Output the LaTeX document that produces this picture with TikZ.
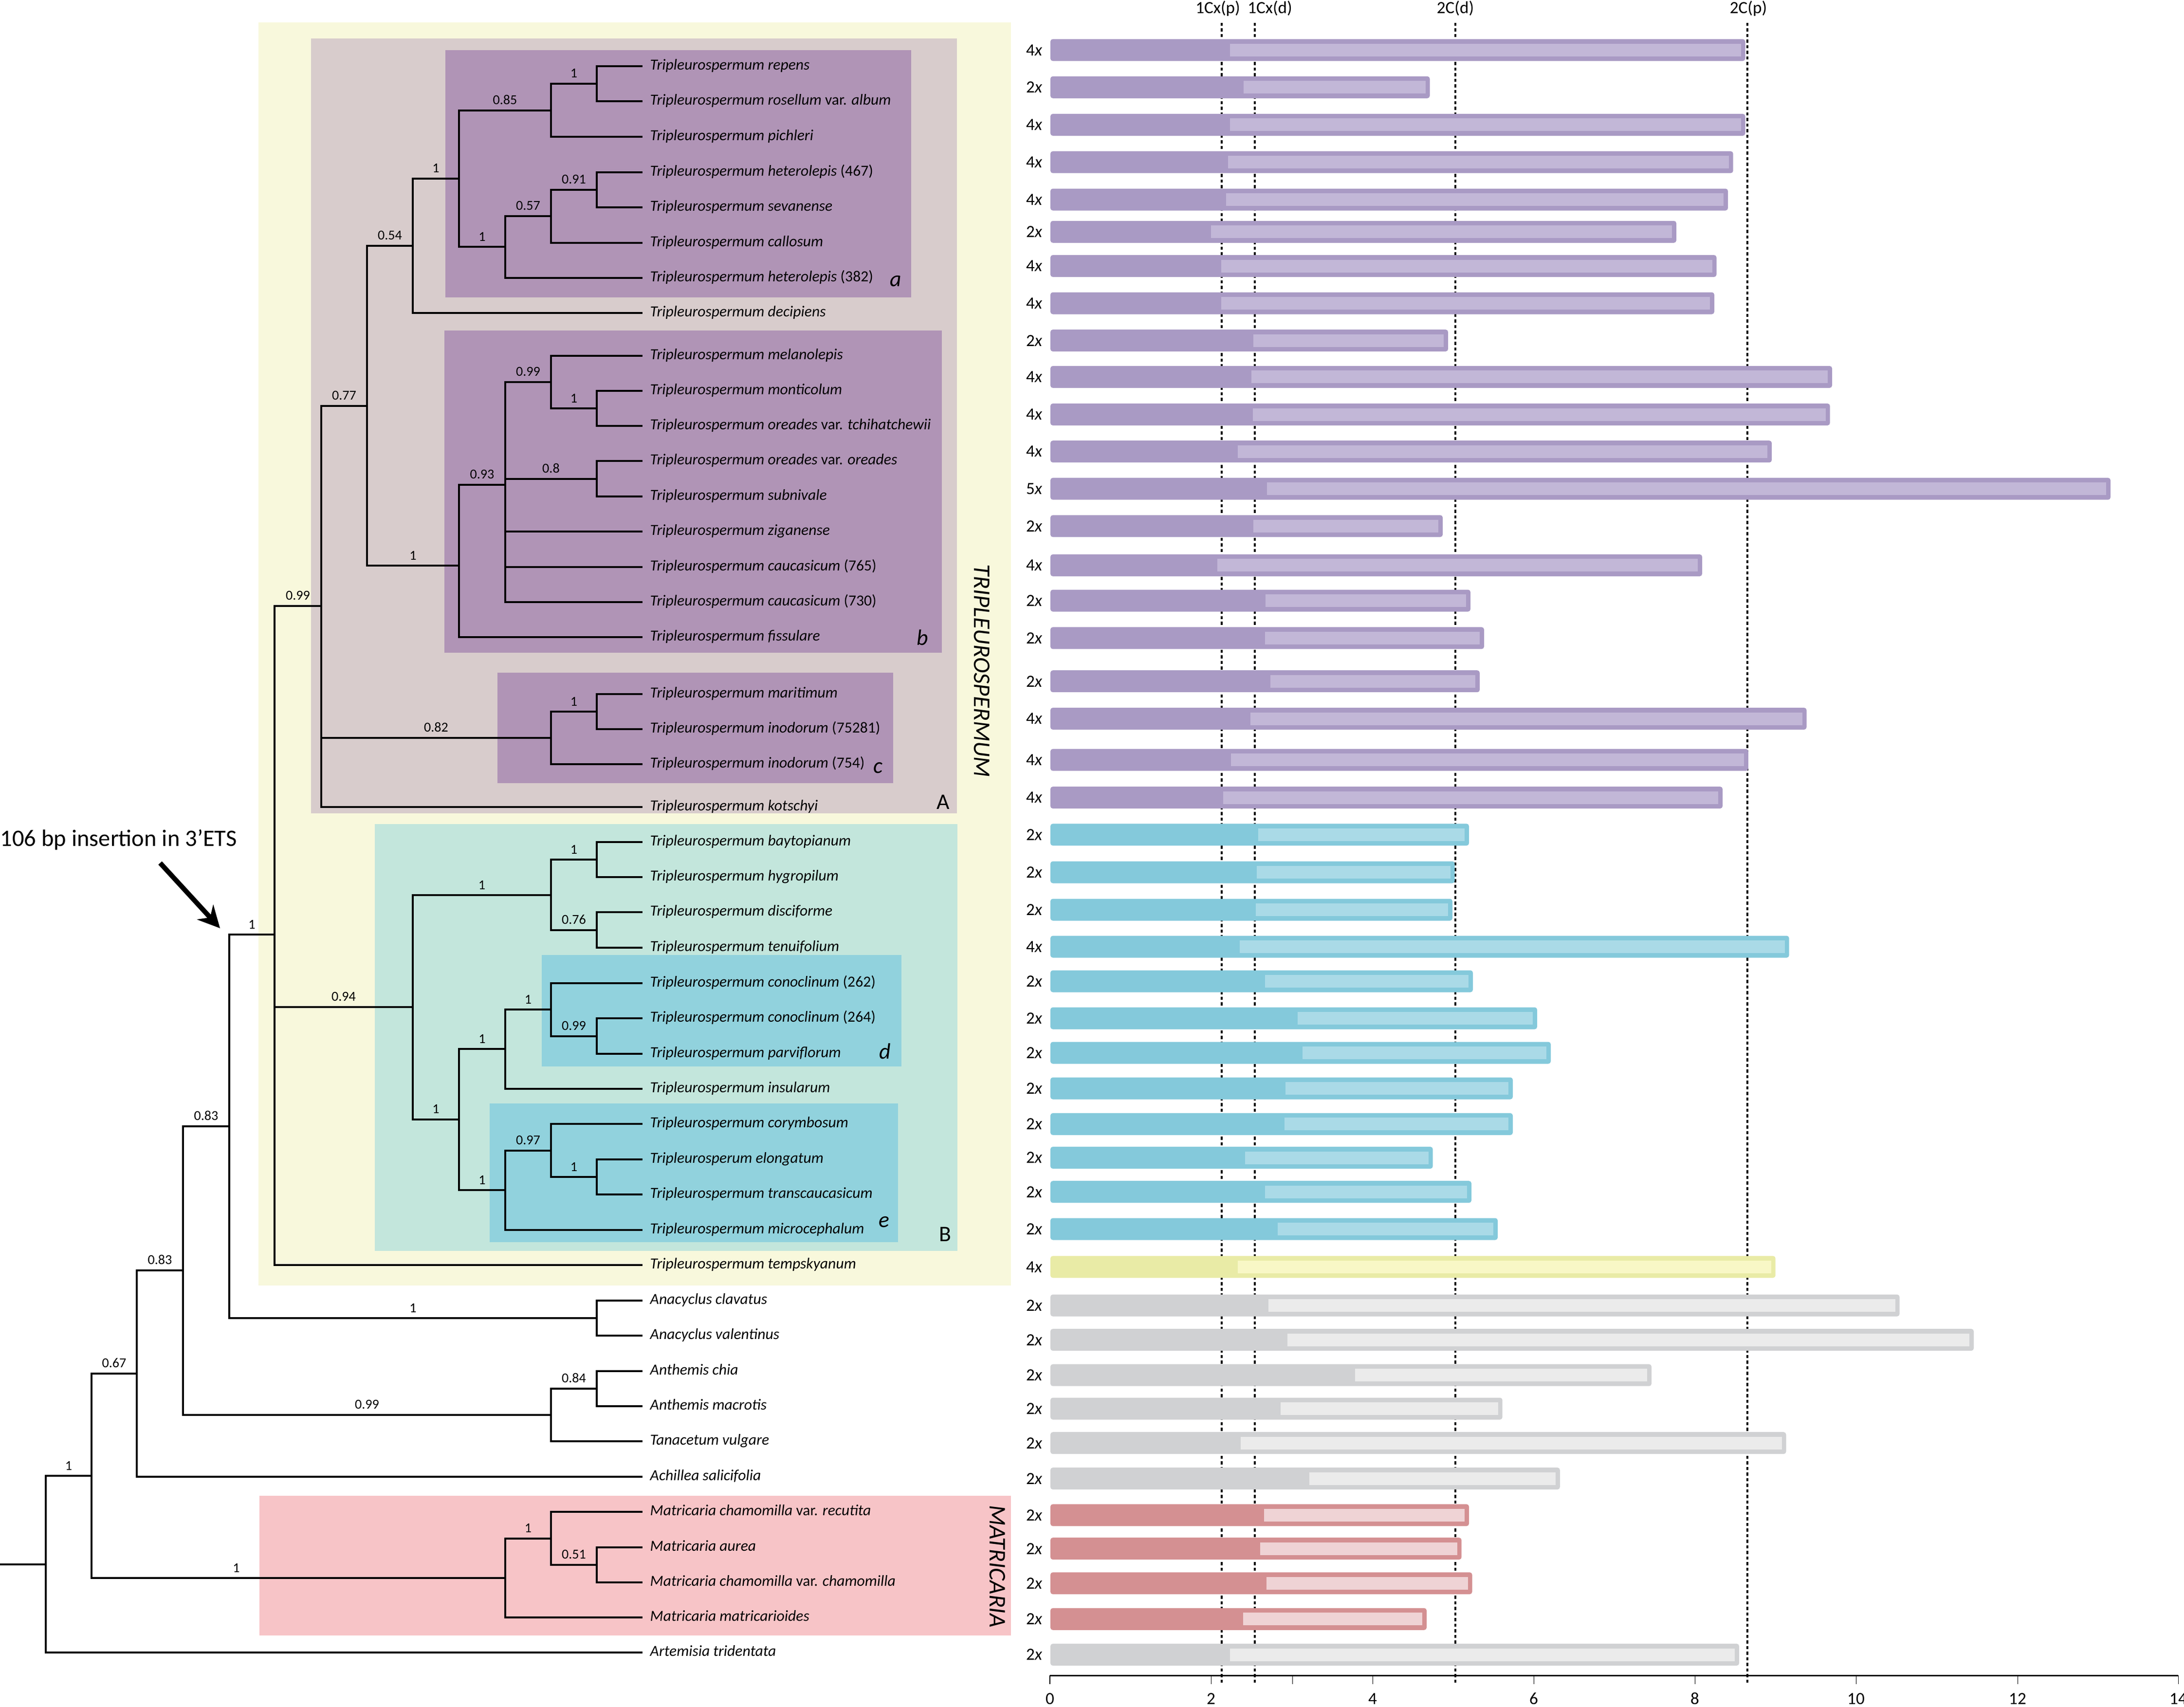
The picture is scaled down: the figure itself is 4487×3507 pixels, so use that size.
\documentclass[tikz,border=0pt]{standalone}
\usepackage{fontspec}
\setmainfont{Carlito}
\usetikzlibrary{arrows.meta}

\definecolor{panelyellow}{HTML}{F8F8DC}
\definecolor{panelA}{HTML}{D8CCCC}
\definecolor{panelpurple}{HTML}{B094B6}
\definecolor{panelB}{HTML}{C3E6DC}
\definecolor{panelcyan}{HTML}{91D2DD}
\definecolor{panelpink}{HTML}{F7C4C7}
\definecolor{purpledark}{HTML}{A99AC4}
\definecolor{purplelight}{HTML}{C2B7D7}
\definecolor{cyandark}{HTML}{84C9DB}
\definecolor{cyanlight}{HTML}{AADAE7}
\definecolor{yellowdark}{HTML}{E9EBA6}
\definecolor{yellowlight}{HTML}{F8F7C6}
\definecolor{greydark}{HTML}{D0D1D3}
\definecolor{greylight}{HTML}{EBEBEB}
\definecolor{pinkdark}{HTML}{D49092}
\definecolor{pinklight}{HTML}{EFD3D5}

% genome size bar: id, y, start of light part, end, colour, ploidy
\newcommand{\gsbar}[6]{%
  \fill[#5dark, rounded corners=0.5mm] (2158,#2-22.5) rectangle (#4,#2+22.5);
  \fill[#5light] (#3,#2-13) rectangle (#4-9,#2+13);
  \node[ploidy] (#1) at (2142,#2) {#6\textit{x}};
}

\begin{document}
\begin{tikzpicture}[x=0.1mm, y=-0.1mm,
    branch/.style={line width=0.4mm},
    taxon/.style={anchor=west, inner xsep=1.5mm, inner ysep=0pt,
      text height=2.2mm, text depth=0.7mm,
      font=\fontsize{9}{10}\selectfont\itshape},
    sup/.style={pos=0.75, above=1mm, inner sep=0pt,
      font=\fontsize{8}{9}\selectfont},
    cladelab/.style={font=\fontsize{13}{14}\selectfont\itshape},
    grouplab/.style={font=\fontsize{13}{14}\selectfont},
    genus/.style={rotate=-90, font=\fontsize{14}{15}\selectfont\itshape},
    ploidy/.style={anchor=east, inner sep=0pt, font=\fontsize{10}{11}\selectfont},
    refline/.style={line width=0.4mm, dash pattern=on 0.65mm off 0.5mm},
    reflab/.style={inner sep=0pt, font=\fontsize{10}{11}\selectfont},
    ticklab/.style={inner sep=0pt, font=\fontsize{10}{11}\selectfont},
    tick/.style={line width=0.3pt}
  ]
  \useasboundingbox[fill=white] (0,0) rectangle (4487,3507);

  % Coloured panels
  \fill[panelyellow] (531,46) rectangle (2077,2641);
  \fill[panelA] (639,79) rectangle (1966,1671);
  \fill[panelpurple] (915,103) rectangle (1872,611);
  \fill[panelpurple] (913,679) rectangle (1935,1341);
  \fill[panelpurple] (1022,1382) rectangle (1835,1609);
  \fill[panelB] (770,1693) rectangle (1967,2570);
  \fill[panelcyan] (1113,1962) rectangle (1852,2191);
  \fill[panelcyan] (1006,2267) rectangle (1845,2552);
  \fill[panelpink] (533,3073) rectangle (2077,3360);

  \node[cladelab] (la) at (1840,578) {a};
  \node[cladelab] (lb) at (1895,1310) {b};
  \node[cladelab] (lc) at (1804,1578) {c};
  \node[cladelab] (ld) at (1818,2160) {d};
  \node[cladelab] (le) at (1816,2511) {e};
  \node[grouplab] (lA) at (1938,1648) {A};
  \node[grouplab] (lB) at (1942,2536) {B};
  \node[genus] (tripl) at (2017,1378) {TRIPLEUROSPERMUM};
  \node[genus] (matri) at (2049,3218) {MATRICARIA};

  % Taxa
  \node[taxon] (repens) at (1320,136) {Tripleurospermum repens};
  \node[taxon] (rosellum) at (1320,208.5) {Tripleurospermum rosellum \textup{var.} album};
  \node[taxon] (pichleri) at (1320,281) {Tripleurospermum pichleri};
  \node[taxon] (het467) at (1320,353.6) {Tripleurospermum heterolepis \textup{(467)}};
  \node[taxon] (sevanense) at (1320,426) {Tripleurospermum sevanense};
  \node[taxon] (callosum) at (1320,498.7) {Tripleurospermum callosum};
  \node[taxon] (het382) at (1320,571) {Tripleurospermum heterolepis \textup{(382)}};
  \node[taxon] (decipiens) at (1320,643) {Tripleurospermum decipiens};
  \node[taxon] (melanolepis) at (1320,731) {Tripleurospermum melanolepis};
  \node[taxon] (monticolum) at (1320,803) {Tripleurospermum monticolum};
  \node[taxon] (tchihat) at (1320,875) {Tripleurospermum oreades \textup{var.} tchihatchewii};
  \node[taxon] (oreades) at (1320,947) {Tripleurospermum oreades \textup{var.} oreades};
  \node[taxon] (subnivale) at (1320,1020) {Tripleurospermum subnivale};
  \node[taxon] (ziganense) at (1320,1092) {Tripleurospermum ziganense};
  \node[taxon] (cauc765) at (1320,1165) {Tripleurospermum caucasicum \textup{(765)}};
  \node[taxon] (cauc730) at (1320,1237) {Tripleurospermum caucasicum \textup{(730)}};
  \node[taxon] (fissulare) at (1320,1309) {Tripleurospermum fissulare};
  \node[taxon] (maritimum) at (1320,1426) {Tripleurospermum maritimum};
  \node[taxon] (inod75281) at (1320,1498) {Tripleurospermum inodorum \textup{(75281)}};
  \node[taxon] (inod754) at (1320,1570) {Tripleurospermum inodorum \textup{(754)}};
  \node[taxon] (kotschyi) at (1320,1658) {Tripleurospermum kotschyi};
  \node[taxon] (baytop) at (1320,1730) {Tripleurospermum baytopianum};
  \node[taxon] (hygro) at (1320,1802) {Tripleurospermum hygropilum};
  \node[taxon] (disci) at (1320,1874) {Tripleurospermum disciforme};
  \node[taxon] (tenui) at (1320,1947) {Tripleurospermum tenuifolium};
  \node[taxon] (cono262) at (1320,2020) {Tripleurospermum conoclinum \textup{(262)}};
  \node[taxon] (cono264) at (1320,2092) {Tripleurospermum conoclinum \textup{(264)}};
  \node[taxon] (parvi) at (1320,2165) {Tripleurospermum parviflorum};
  \node[taxon] (insul) at (1320,2237) {Tripleurospermum insularum};
  \node[taxon] (coryb) at (1320,2309) {Tripleurospermum corymbosum};
  \node[taxon] (elong) at (1320,2381.5) {Tripleurosperum elongatum};
  \node[taxon] (transc) at (1320,2454) {Tripleurospermum transcaucasicum};
  \node[taxon] (microc) at (1320,2527) {Tripleurospermum microcephalum};
  \node[taxon] (tempsk) at (1320,2599) {Tripleurospermum tempskyanum};
  \node[taxon] (clavatus) at (1320,2672) {Anacyclus clavatus};
  \node[taxon] (valent) at (1320,2744) {Anacyclus valentinus};
  \node[taxon] (chia) at (1320,2817) {Anthemis chia};
  \node[taxon] (macrotis) at (1320,2889) {Anthemis macrotis};
  \node[taxon] (tanac) at (1320,2961) {Tanacetum vulgare};
  \node[taxon] (achil) at (1320,3034) {Achillea salicifolia};
  \node[taxon] (recut) at (1320,3106) {Matricaria chamomilla \textup{var.} recutita};
  \node[taxon] (aurea) at (1320,3179) {Matricaria aurea};
  \node[taxon] (chamo) at (1320,3251) {Matricaria chamomilla \textup{var.} chamomilla};
  \node[taxon] (matric) at (1320,3323) {Matricaria matricarioides};
  \node[taxon] (artem) at (1320,3395) {Artemisia tridentata};

  % Internal nodes
  \coordinate (stub) at (0,3213.5);
  \coordinate (root) at (94,3213.5);
  \coordinate (n1r) at (188,3032);
  \coordinate (n067) at (281,2822);
  \coordinate (n083b) at (376,2610);
  \coordinate (n083a) at (471,2314);
  \coordinate (trip) at (564,1920);
  \coordinate (n099) at (660,1245);
  \coordinate (n077) at (754,833.5);
  \coordinate (n054) at (848,505);
  \coordinate (cla) at (943,367);
  \coordinate (n085) at (1132,227);
  \coordinate (rr) at (1226,172);
  \coordinate (n1a) at (1038,507);
  \coordinate (n057) at (1132,444);
  \coordinate (n091) at (1226,390);
  \coordinate (clb) at (943,1162);
  \coordinate (n093) at (1038,996);
  \coordinate (n099b) at (1132,785);
  \coordinate (mon) at (1226,839);
  \coordinate (n08) at (1226,983.5);
  \coordinate (n082) at (1132,1516);
  \coordinate (mar) at (1226,1462);
  \coordinate (clB) at (848,2069);
  \coordinate (n1B1) at (1132,1839);
  \coordinate (bh) at (1226,1766);
  \coordinate (n076) at (1226,1910.5);
  \coordinate (n1B3) at (943,2299.5);
  \coordinate (n1B2) at (1038,2155);
  \coordinate (cld) at (1132,2074);
  \coordinate (n099c) at (1226,2128.5);
  \coordinate (cle) at (1038,2445);
  \coordinate (n097) at (1132,2363.5);
  \coordinate (el) at (1226,2418);
  \coordinate (ana) at (1226,2708);
  \coordinate (n099d) at (1132,2907);
  \coordinate (n084) at (1226,2853);
  \coordinate (mat) at (1038,3242);
  \coordinate (n1m) at (1132,3160.5);
  \coordinate (n051) at (1226,3215);

  % Branches
  \begin{scope}[branch]
    \draw (stub) -- (root);
    \draw (root) |- node[sup] {1} (n1r);
    \draw (root) |- (artem.west);
    \draw (n1r) |- node[sup] {0.67} (n067);
    \draw (n1r) |- node[sup, pos=0.675] {1} (mat);
    \draw (n067) |- node[sup] {0.83} (n083b);
    \draw (n067) |- (achil.west);
    \draw (n083b) |- node[sup] {0.83} (n083a);
    \draw (n083b) |- node[sup] {0.99} (n099d);
    \draw (n083a) |- node[sup] {1} (trip);
    \draw (n083a) |- node[sup] {1} (ana);
    \draw (trip) |- node[sup] {0.99} (n099);
    \draw (trip) |- node[sup] {0.94} (clB);
    \draw (trip) |- (tempsk.west);
    \draw (n099) |- node[sup] {0.77} (n077);
    \draw (n099) |- node[sup] {0.82} (n082);
    \draw (n099) |- (kotschyi.west);
    \draw (n077) |- node[sup] {0.54} (n054);
    \draw (n077) |- node[sup] {1} (clb);
    \draw (n054) |- node[sup] {1} (cla);
    \draw (n054) |- (decipiens.west);
    % clade a
    \draw (cla) |- node[sup] {0.85} (n085);
    \draw (cla) |- node[sup] {1} (n1a);
    \draw (n085) |- node[sup] {1} (rr);
    \draw (n085) |- (pichleri.west);
    \draw (rr) |- (repens.west);
    \draw (rr) |- (rosellum.west);
    \draw (n1a) |- node[sup] {0.57} (n057);
    \draw (n1a) |- (het382.west);
    \draw (n057) |- node[sup] {0.91} (n091);
    \draw (n057) |- (callosum.west);
    \draw (n091) |- (het467.west);
    \draw (n091) |- (sevanense.west);
    % clade b
    \draw (clb) |- node[sup] {0.93} (n093);
    \draw (clb) |- (fissulare.west);
    \draw (n093) |- node[sup] {0.99} (n099b);
    \draw (n093) |- node[sup] {0.8} (n08);
    \draw (n093) |- (ziganense.west);
    \draw (n093) |- (cauc765.west);
    \draw (n093) |- (cauc730.west);
    \draw (n099b) |- (melanolepis.west);
    \draw (n099b) |- node[sup] {1} (mon);
    \draw (mon) |- (monticolum.west);
    \draw (mon) |- (tchihat.west);
    \draw (n08) |- (oreades.west);
    \draw (n08) |- (subnivale.west);
    % clade c
    \draw (n082) |- node[sup] {1} (mar);
    \draw (n082) |- (inod754.west);
    \draw (mar) |- (maritimum.west);
    \draw (mar) |- (inod75281.west);
    % clade B
    \draw (clB) |- node[sup] {1} (n1B1);
    \draw (clB) |- node[sup] {1} (n1B3);
    \draw (n1B1) |- node[sup] {1} (bh);
    \draw (n1B1) |- node[sup] {0.76} (n076);
    \draw (bh) |- (baytop.west);
    \draw (bh) |- (hygro.west);
    \draw (n076) |- (disci.west);
    \draw (n076) |- (tenui.west);
    \draw (n1B3) |- node[sup] {1} (n1B2);
    \draw (n1B3) |- node[sup] {1} (cle);
    \draw (n1B2) |- node[sup] {1} (cld);
    \draw (n1B2) |- (insul.west);
    \draw (cld) |- (cono262.west);
    \draw (cld) |- node[sup] {0.99} (n099c);
    \draw (n099c) |- (cono264.west);
    \draw (n099c) |- (parvi.west);
    \draw (cle) |- node[sup] {0.97} (n097);
    \draw (cle) |- (microc.west);
    \draw (n097) |- (coryb.west);
    \draw (n097) |- node[sup] {1} (el);
    \draw (el) |- (elong.west);
    \draw (el) |- (transc.west);
    % outgroups
    \draw (ana) |- (clavatus.west);
    \draw (ana) |- (valent.west);
    \draw (n099d) |- node[sup] {0.84} (n084);
    \draw (n099d) |- (tanac.west);
    \draw (n084) |- (chia.west);
    \draw (n084) |- (macrotis.west);
    \draw (mat) |- node[sup] {1} (n1m);
    \draw (mat) |- (matric.west);
    \draw (n1m) |- (recut.west);
    \draw (n1m) |- node[sup] {0.51} (n051);
    \draw (n051) |- (aurea.west);
    \draw (n051) |- (chamo.west);
  \end{scope}

  % Insertion arrow
  \node[anchor=west, inner sep=0pt, font=\fontsize{13.8}{15}\selectfont] (ins) at (0,1725) {106 bp insertion in 3’ETS};
  \coordinate (arrtail) at (329,1773);
  \coordinate (arrtip) at (452,1907);
  \draw[line width=1mm, -{Stealth[length=4.5mm, width=4.5mm, inset=1.5mm]}] (arrtail) -- (arrtip);

  % Reference lines
  \coordinate (cxpT) at (2510,47);  \coordinate (cxpB) at (2510,3458);
  \coordinate (cxdT) at (2578,47);  \coordinate (cxdB) at (2578,3458);
  \coordinate (cdT) at (2990,47);   \coordinate (cdB) at (2990,3458);
  \coordinate (cpT) at (3590,47);   \coordinate (cpB) at (3590,3462);
  \draw[refline] (cxpT) -- (cxpB);
  \draw[refline] (cxdT) -- (cxdB);
  \draw[refline] (cdT) -- (cdB);
  \draw[refline] (cpT) -- (cpB);
  \node[reflab] (lcxp) at (2502,17) {1Cx(p)};
  \node[reflab] (lcxd) at (2609,17) {1Cx(d)};
  \node[reflab] (lcd) at (2990,17) {2C(d)};
  \node[reflab] (lcp) at (3592,17) {2C(p)};

  % Genome size bars
  \gsbar{p1}{102.8}{2527}{3585.5}{purple}{4}
  \gsbar{p2}{179.3}{2555}{2937.5}{purple}{2}
  \gsbar{p3}{256.4}{2527}{3585.5}{purple}{4}
  \gsbar{p4}{333.2}{2522.5}{3560.7}{purple}{4}
  \gsbar{p5}{410}{2519}{3550}{purple}{4}
  \gsbar{p6}{476.3}{2488}{3444}{purple}{2}
  \gsbar{p7}{546.5}{2508.5}{3526.5}{purple}{4}
  \gsbar{p8}{623}{2508.5}{3522}{purple}{4}
  \gsbar{p9}{699.6}{2575}{2975}{purple}{2}
  \gsbar{p10}{774.4}{2570.7}{3764}{purple}{4}
  \gsbar{p11}{851.5}{2573.8}{3759.6}{purple}{4}
  \gsbar{p12}{927.7}{2542.7}{3640}{purple}{4}
  \gsbar{p13}{1004.2}{2603}{4336}{purple}{5}
  \gsbar{p14}{1080.8}{2575}{2964}{purple}{2}
  \gsbar{p15}{1161.4}{2500.7}{3497}{purple}{4}
  \gsbar{p16}{1234}{2600}{3021}{purple}{2}
  \gsbar{p17}{1310.9}{2598.6}{3049}{purple}{2}
  \gsbar{p18}{1399.7}{2609.5}{3040}{purple}{2}
  \gsbar{p19}{1476.5}{2569}{3711.5}{purple}{4}
  \gsbar{p20}{1561.2}{2528.7}{3591.8}{purple}{4}
  \gsbar{p21}{1638.6}{2513}{3539}{purple}{4}
  \gsbar{p22}{1714.8}{2584.6}{3018}{cyan}{2}
  \gsbar{p23}{1792}{2581.5}{2988.7}{cyan}{2}
  \gsbar{p24}{1869}{2580}{2984}{cyan}{2}
  \gsbar{p25}{1945}{2547}{3675.7}{cyan}{4}
  \gsbar{p26}{2016}{2598.6}{3026}{cyan}{2}
  \gsbar{p27}{2092}{2665.5}{3158}{cyan}{2}
  \gsbar{p28}{2163}{2676}{3186}{cyan}{2}
  \gsbar{p29}{2236}{2640.6}{3108}{cyan}{2}
  \gsbar{p30}{2309.4}{2639}{3108}{cyan}{2}
  \gsbar{p31}{2378.5}{2558}{2943.7}{cyan}{2}
  \gsbar{p32}{2448.7}{2598.6}{3023}{cyan}{2}
  \gsbar{p33}{2525}{2625}{3077}{cyan}{2}
  \gsbar{p34}{2602.8}{2542.7}{3647.7}{yellow}{4}
  \gsbar{p35}{2682}{2606.4}{3902.6}{grey}{2}
  \gsbar{p36}{2752.6}{2645}{4055}{grey}{2}
  \gsbar{p37}{2825.2}{2783.6}{3393}{grey}{2}
  \gsbar{p38}{2894}{2631}{3086.7}{grey}{2}
  \gsbar{p39}{2964.7}{2549}{3669.5}{grey}{2}
  \gsbar{p40}{3037.6}{2690}{3204.8}{grey}{2}
  \gsbar{p41}{3112.8}{2597}{3018}{pink}{2}
  \gsbar{p42}{3181.6}{2589}{3002.7}{pink}{2}
  \gsbar{p43}{3252.8}{2601.7}{3024.5}{pink}{2}
  \gsbar{p44}{3326.3}{2553.6}{2931}{pink}{2}
  \gsbar{p45}{3399.5}{2527}{3573}{grey}{2}

  % Axis
  \coordinate (ax0) at (2157,3442);
  \coordinate (ax14) at (4475,3442);
  \draw[line width=0.3mm] (ax0) -- (ax14);
  \draw[tick] (2157,3442) -- (2157,3460);
  \draw[tick] (2488,3442) -- (2488,3460);
  \draw[tick] (2655,3442) -- (2655,3460);
  \draw[tick] (2820,3442) -- (2820,3460);
  \draw[tick] (3151,3442) -- (3151,3460);
  \draw[tick] (3482,3442) -- (3482,3460);
  \draw[tick] (3813,3442) -- (3813,3460);
  \draw[tick] (4145,3442) -- (4145,3460);
  \draw[tick] (4475,3442) -- (4475,3460);
  \node[ticklab] (t0) at (2157,3490) {0};
  \node[ticklab] (t2) at (2488,3490) {2};
  \node[ticklab] (t4) at (2820,3490) {4};
  \node[ticklab] (t6) at (3151,3490) {6};
  \node[ticklab] (t8) at (3482,3490) {8};
  \node[ticklab] (t10) at (3813,3490) {10};
  \node[ticklab] (t12) at (4145,3490) {12};
  \node[ticklab] (t14) at (4475,3490) {14};
\end{tikzpicture}
\end{document}
